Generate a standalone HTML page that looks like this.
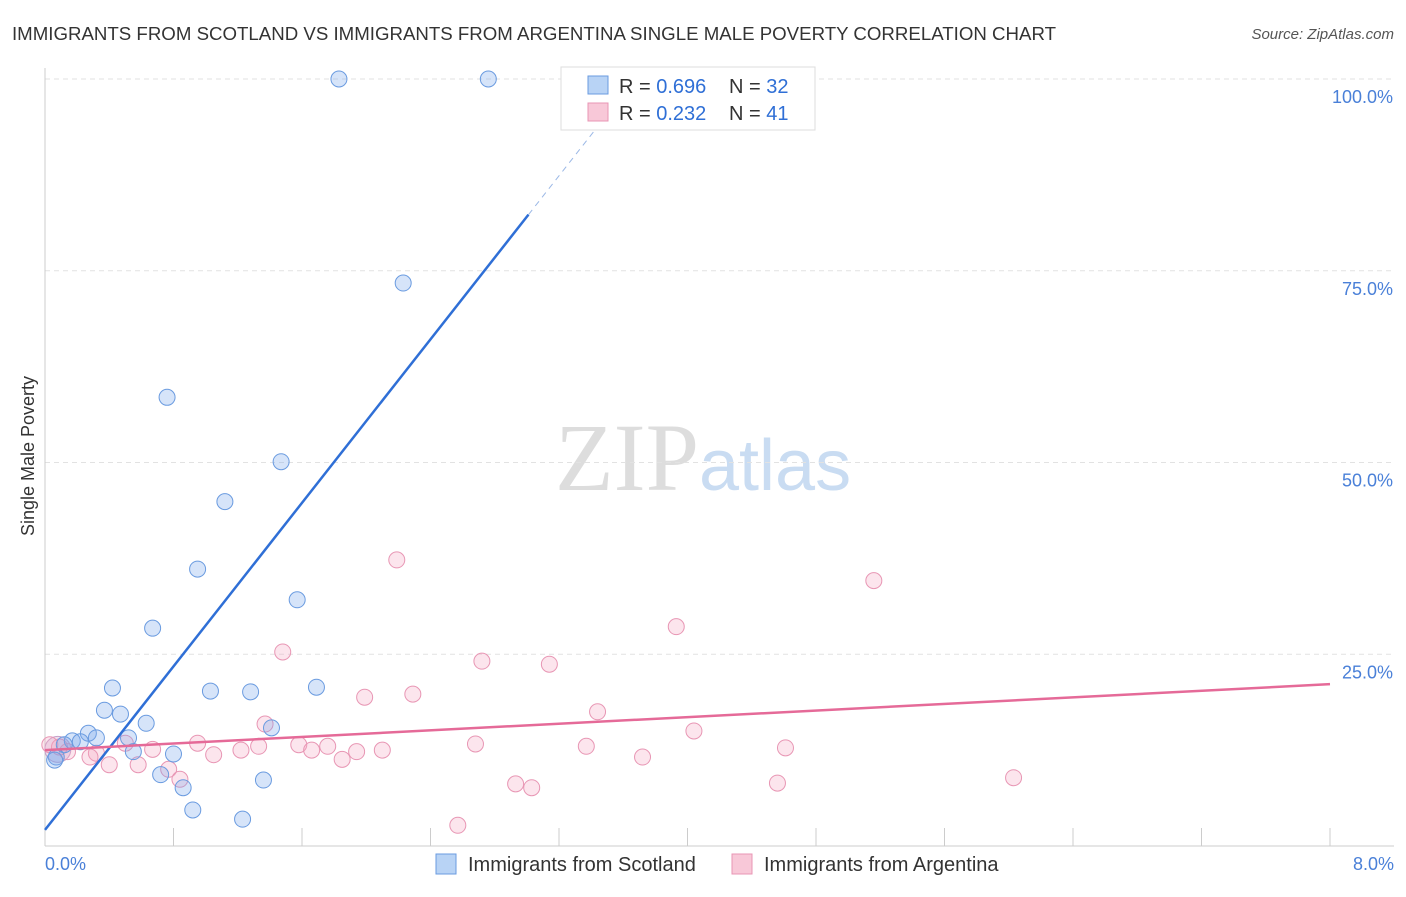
<!DOCTYPE html>
<html><head><meta charset="utf-8"><style>
body{margin:0;background:#fff;font-family:"Liberation Sans",sans-serif}
</style></head><body>
<svg width="1406" height="892" xmlns="http://www.w3.org/2000/svg" font-family="Liberation Sans, sans-serif">
<text x="12" y="40" font-size="18" fill="#333" textLength="1044" lengthAdjust="spacingAndGlyphs">IMMIGRANTS FROM SCOTLAND VS IMMIGRANTS FROM ARGENTINA SINGLE MALE POVERTY CORRELATION CHART</text>
<text x="1394" y="39" font-size="15" fill="#555" font-style="italic" text-anchor="end">Source: ZipAtlas.com</text>
<text x="555" y="490" font-size="96" fill="#ddd" font-family="Liberation Serif, serif">ZIP<tspan fill="#c9dcf2" font-family="Liberation Sans, sans-serif" font-size="72">atlas</tspan></text>
<text transform="translate(34,456) rotate(-90)" font-size="18" fill="#333" text-anchor="middle">Single Male Poverty</text>
<g id="grid"></g><g id="axes"></g><g id="marks"></g>
<g>
<rect x="561" y="67" width="254" height="63" fill="#fff" stroke="#ddd"/>
<rect x="588" y="76" width="20" height="18" fill="#b8d3f5" stroke="#6a9be0"/>
<rect x="588" y="103" width="20" height="18" fill="#f8c8d8" stroke="#e896b4"/>
<text x="619" y="93" font-size="20" fill="#333">R = <tspan fill="#2f6fd6">0.696</tspan></text>
<text x="729" y="93" font-size="20" fill="#333">N = <tspan fill="#2f6fd6">32</tspan></text>
<text x="619" y="120" font-size="20" fill="#333">R = <tspan fill="#2f6fd6">0.232</tspan></text>
<text x="729" y="120" font-size="20" fill="#333">N = <tspan fill="#2f6fd6">41</tspan></text>
</g>
<g>
<rect x="436" y="854" width="20" height="20" fill="#b8d3f5" stroke="#6a9be0"/>
<text x="468" y="871" font-size="20" fill="#333">Immigrants from Scotland</text>
<rect x="732" y="854" width="20" height="20" fill="#f8c8d8" stroke="#e896b4"/>
<text x="764" y="871" font-size="20" fill="#333">Immigrants from Argentina</text>
</g>
</svg>
<script>
const yTicks=[25,50,75,100];
const xTickLabels=["0.0%","8.0%"];
const scotX=[1.83,2.76,2.23,0.76,1.47,1.12,0.95,1.57,0.67,0.42,1.03,1.28,1.69,0.37,0.47,0.63,1.41,0.27,0.32,0.52,0.17,0.22,0.12,0.55,0.80,0.07,0.06,0.72,0.86,1.36,0.92,1.23];
const scotY=[100,100,73.4,58.5,50.1,44.9,36.1,32.1,28.4,20.6,20.2,20.1,20.7,17.7,17.2,16.0,15.4,14.7,14.1,14.1,13.7,13.6,13.2,12.3,12.0,11.6,11.2,9.3,7.6,8.6,4.7,3.5];
const argX=[2.19,5.16,3.93,1.48,2.72,3.14,1.99,2.29,3.44,1.37,4.04,0.95,0.50,0.67,1.05,1.22,1.33,1.58,1.76,1.66,1.94,2.10,2.68,3.37,4.61,3.72,1.85,0.32,0.28,0.14,0.09,0.40,0.58,0.77,0.84,2.93,3.03,4.56,6.03,2.57,0.03];
const argY=[37.3,34.6,28.6,25.3,24.1,23.7,19.4,19.8,17.5,15.9,15.0,13.4,13.4,12.6,11.9,12.5,13.0,13.2,13.0,12.5,12.3,12.5,13.3,13.0,12.8,11.6,11.3,12.1,11.6,12.3,12.9,10.6,10.6,10.0,8.7,8.1,7.6,8.2,8.9,2.7,13.2];
const scotTrend=[2.1,26.65]; // intercept, slope
const argTrend=[12.5,1.075];
const NS="http://www.w3.org/2000/svg";
const sx=v=>45+v/8*1285, sy=v=>846-v/100*767;
function mk(t,a,p){const e=document.createElementNS(NS,t);for(const k in a)e.setAttribute(k,a[k]);p.appendChild(e);return e;}
const grid=document.getElementById('grid'),axes=document.getElementById('axes'),marks=document.getElementById('marks');
yTicks.forEach(v=>{
 const l=mk('line',{x1:45,x2:1394,y1:sy(v),y2:sy(v),stroke:'#e2e2e2','stroke-dasharray':'5,4'},grid);
 
 
 const t=mk('text',{x:1393,y:sy(v)+24,'font-size':18,fill:'#4a80d8','text-anchor':'end'},grid);
 t.textContent=v.toFixed(1)+'%';
 
 
});
const ya=mk('line',{x1:45,x2:45,y1:68,y2:846,stroke:'#ccc'},axes);


const xa=mk('line',{x1:45,x2:1394,y1:846,y2:846,stroke:'#ccc'},axes);


for(let i=0;i<=10;i++){const x=sx(i*0.8);const t=mk('line',{x1:x,x2:x,y1:828,y2:846,stroke:'#ccc'},axes);
 
 }
[[0,45,'start'],[1,1394,'end']].forEach(([i,x,a])=>{const t=mk('text',{x:x,y:870,'font-size':18,fill:'#4a80d8','text-anchor':a},axes);t.textContent=xTickLabels[i];
 
 });
function pts(X,Y,fill,stroke,name){X.forEach((x,i)=>{const c=mk('circle',{cx:sx(x),cy:sy(Y[i]),r:8,fill:fill,stroke:stroke,'stroke-width':1},marks);
 
 });}
mk('circle',{cx:sx(0.08),cy:sy(12.6),r:13,fill:'rgba(200,170,210,0.35)',stroke:'#c8a0c8'},marks);
pts(argX,argY,'rgba(244,170,196,0.3)','#e896b4','point-argentina');
pts(scotX,scotY,'rgba(120,165,235,0.3)','#6a9be0','point-scotland');
const xe=3.01,xd=(100-scotTrend[0])/scotTrend[1];
const b1=mk('line',{x1:sx(0),y1:sy(scotTrend[0]),x2:sx(xe),y2:sy(scotTrend[0]+scotTrend[1]*xe),stroke:'#2f6fd6','stroke-width':2.5},marks);


const b2=mk('line',{x1:sx(xe),y1:sy(scotTrend[0]+scotTrend[1]*xe),x2:sx(xd-0.1),y2:sy(scotTrend[0]+scotTrend[1]*(xd-0.1)),stroke:'#9bb8e6','stroke-width':1,'stroke-dasharray':'6,5'},marks);


const p1=mk('line',{x1:sx(0),y1:sy(argTrend[0]),x2:sx(8),y2:sy(argTrend[0]+argTrend[1]*8),stroke:'#e56a98','stroke-width':2.5},marks);


</script>
</body></html>
